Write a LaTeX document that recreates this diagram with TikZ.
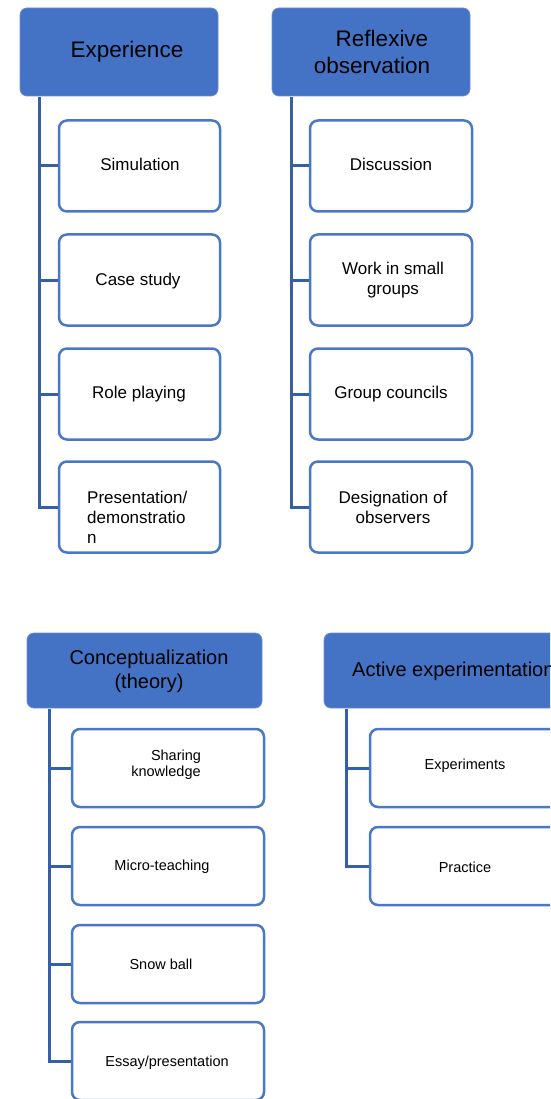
\documentclass[tikz,border=0pt]{standalone}
\usepackage{fontspec}
\setmainfont{Liberation Sans}
\definecolor{hfill}{HTML}{4472C4}
\definecolor{cbord}{HTML}{4A78C9}
\definecolor{lcol}{HTML}{3560A8}
\begin{document}
\begin{tikzpicture}[x=1pt,y=-1pt,
  head/.style={fill=hfill,draw=hfill!80!white,line width=0.8pt,rounded corners=7pt,inner sep=0pt},
  child/.style={fill=white,draw=cbord,line width=2.5pt,rounded corners=8pt,inner sep=0pt},
  conn/.style={draw=lcol,line width=3pt},
  htxt/.style={inner sep=0pt,font=\fontsize{22.5}{27}\selectfont,align=center},
  htxtb/.style={inner sep=0pt,font=\fontsize{20}{24}\selectfont,align=center},
  ctxt/.style={inner sep=0pt,font=\fontsize{17}{20}\selectfont,align=center},
  ctxtb/.style={inner sep=0pt,font=\fontsize{14.5}{16}\selectfont,align=center}]
\useasboundingbox (0,0) rectangle (550,1099);
\clip (0,0) rectangle (550,1099);
% ---------- Experience ----------
\node[head,minimum width=198pt,minimum height=88pt] (h1) at (119,52) {};
\node[htxt] (h1t) at (127,52) {Experience};
\foreach \n/\y in {1/166,2/280,3/394,4/507}{
  \node[child,minimum width=161pt,minimum height=91pt] (a\n) at (139.5,\y) {};
}
\coordinate (t1) at (39,97);
\draw[conn] (t1) |- (a4.west);
\foreach \n in {1,2,3}{\draw[conn] (t1 |- a\n.west) -- (a\n.west);}
\node[ctxt] (a1t) at (140,164) {Simulation};
\node[ctxt] (a2t) at (138,281) {Case study};
\node[ctxt] (a3t) at (139,394) {Role playing};
\node[ctxt,align=left,anchor=west] (a4t) at (87,517) {Presentation/\\demonstratio\\n};
% ---------- Reflexive observation ----------
\node[head,minimum width=198pt,minimum height=88pt] (h2) at (371,52) {};
\node[htxt] (h2t) at (372,52) {\hspace*{20pt}Reflexive\\observation};
\foreach \n/\y in {1/166,2/280,3/394,4/507}{
  \node[child,minimum width=162pt,minimum height=91pt] (b\n) at (391,\y) {};
}
\coordinate (t2) at (291,97);
\draw[conn] (t2) |- (b4.west);
\foreach \n in {1,2,3}{\draw[conn] (t2 |- b\n.west) -- (b\n.west);}
\node[ctxt] (b1t) at (391,164) {Discussion};
\node[ctxt] (b2t) at (393,280) {Work in small\\groups};
\node[ctxt] (b3t) at (391,394) {Group councils};
\node[ctxt] (b4t) at (393,507) {Designation of\\observers};
% ---------- Conceptualization ----------
\node[head,minimum width=235pt,minimum height=75pt] (h3) at (144.5,670.5) {};
\node[htxtb] (h3t) at (149,671) {Conceptualization\\(theory)};
\foreach \n/\y in {1/768,2/866,3/964,4/1061}{
  \node[child,minimum width=192pt,minimum height=78pt] (c\n) at (168,\y) {};
}
\coordinate (t3) at (49,709);
\draw[conn] (t3) |- (c4.west);
\foreach \n in {1,2,3}{\draw[conn] (t3 |- c\n.west) -- (c\n.west);}
\node[ctxtb] (c1t) at (166,765) {\hspace*{20pt}Sharing\\knowledge};
\node[ctxtb] (c2t) at (162,867) {Micro-teaching};
\node[ctxtb] (c3t) at (161,964) {Snow ball};
\node[ctxtb] (c4t) at (167,1063) {Essay/presentation};
% ---------- Active experimentation ----------
\node[head,minimum width=240pt,minimum height=75pt] (h4) at (444,670.5) {};
\node[htxtb,anchor=west] (h4t) at (352,671) {Active experimentation};
\foreach \n/\y in {1/768,2/866}{
  \node[child,minimum width=192pt,minimum height=78pt] (d\n) at (466,\y) {};
}
\coordinate (t4) at (346,709);
\draw[conn] (t4) |- (d2.west);
\draw[conn] (t4 |- d1.west) -- (d1.west);
\node[ctxtb] (d1t) at (465,766) {Experiments};
\node[ctxtb] (d2t) at (465,867) {Practice};
\end{tikzpicture}
\end{document}
